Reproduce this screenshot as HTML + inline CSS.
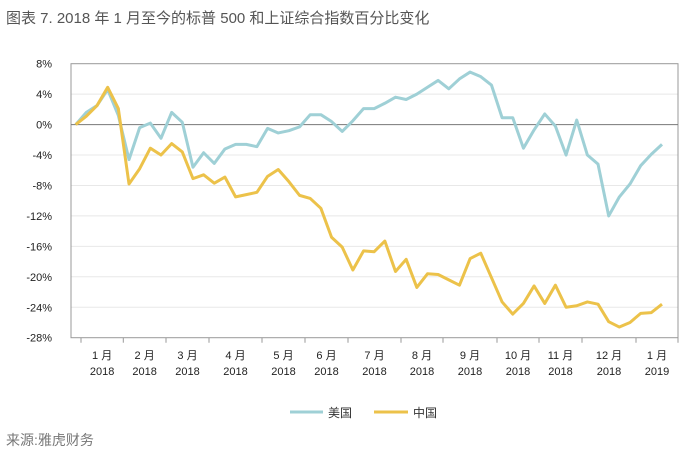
<!DOCTYPE html>
<html><head><meta charset="utf-8"><style>
body{margin:0;background:#fff;width:700px;height:458px;overflow:hidden;font-family:"Liberation Sans","Noto Sans CJK SC",sans-serif}
</style></head><body>
<svg id="chart" width="700" height="458" xmlns="http://www.w3.org/2000/svg" font-family="Liberation Sans, Noto Sans CJK SC, sans-serif">
<text x="6" y="23" font-size="15" fill="#555">图表 7. 2018 年 1 月至今的标普 500 和上证综合指数百分比变化</text>
<g id="grid"></g><g id="axes"></g><g id="series"></g>
<g>
<line x1="290" y1="412" x2="323" y2="412" stroke="#9fd0d6" stroke-width="3"/>
<text x="328" y="417" font-size="12" fill="#333">美国</text>
<line x1="374" y1="412" x2="408" y2="412" stroke="#ecc24a" stroke-width="3"/>
<text x="413" y="417" font-size="12" fill="#333">中国</text>
</g>
<text x="6" y="445" font-size="14" fill="#777">来源:雅虎财务</text>
</svg>
<script>
const usValues=[0,1.6,2.5,4.6,1.2,-4.6,-0.4,0.2,-1.8,1.6,0.3,-5.6,-3.7,-5.1,-3.2,-2.6,-2.6,-2.9,-0.5,-1.1,-0.8,-0.3,1.3,1.3,0.4,-0.9,0.5,2.1,2.1,2.8,3.6,3.3,4.0,4.9,5.8,4.7,6.0,6.9,6.3,5.2,0.9,0.9,-3.1,-0.7,1.4,-0.2,-4.0,0.6,-4.0,-5.2,-12.0,-9.5,-7.8,-5.4,-3.9,-2.6];
const cnValues=[0,1.1,2.5,4.9,2.1,-7.8,-5.8,-3.1,-4.0,-2.5,-3.6,-7.1,-6.6,-7.7,-6.9,-9.5,-9.2,-8.9,-6.8,-5.9,-7.5,-9.3,-9.7,-11.0,-14.8,-16.1,-19.1,-16.6,-16.7,-15.3,-19.3,-17.7,-21.4,-19.6,-19.7,-20.4,-21.1,-17.6,-16.9,-20.1,-23.3,-24.9,-23.5,-21.2,-23.5,-21.1,-24.0,-23.8,-23.3,-23.6,-25.9,-26.6,-26.0,-24.8,-24.7,-23.6];
const yTicks=[8,4,0,-4,-8,-12,-16,-20,-24,-28];
const monthLabels=["1 月","2 月","3 月","4 月","5 月","6 月","7 月","8 月","9 月","10 月","11 月","12 月","1 月"];
const yearLabels=["2018","2018","2018","2018","2018","2018","2018","2018","2018","2018","2018","2018","2019"];
const monthTicks=[81,123.3,166,209,262,305,348,401,443,497,539,582,636,678];
const NS="http://www.w3.org/2000/svg";
const L=71,R=678,T=63.7,B=337.7;
function y(v){return T+(8-v)*(B-T)/36;}
function x(i){return 75.7+i*(662-75.7)/(usValues.length-1);}
function mk(tag,attrs,parent){const e=document.createElementNS(NS,tag);for(const k in attrs)e.setAttribute(k,attrs[k]);parent.appendChild(e);return e;}
const grid=document.getElementById('grid'),axes=document.getElementById('axes'),ser=document.getElementById('series');
yTicks.forEach(v=>{
 if(v!==0&&v!==8&&v!==-28){const g=mk('line',{x1:L,x2:R,y1:y(v),y2:y(v),stroke:'#e8e8e8','stroke-width':1},grid);
 
 }
 const t=mk('text',{x:52,y:y(v)+4,'font-size':11,'text-anchor':'end',fill:'#222'},axes);
 
 
 t.textContent=v+'%';
});
const frame=mk('rect',{x:L,y:T,width:R-L,height:B-T,fill:'none',stroke:'#999','stroke-width':1},axes);


const zl=mk('line',{x1:L,x2:R,y1:y(0),y2:y(0),stroke:'#777','stroke-width':1},axes);


monthTicks.forEach(px=>{const tk=mk('line',{x1:px,x2:px,y1:B,y2:B+5,stroke:'#999'},axes);
 
 });
monthLabels.forEach((m,i)=>{const cx=(monthTicks[i]+monthTicks[i+1])/2;
 const t=mk('text',{x:cx,y:359,'font-size':11,'text-anchor':'middle',fill:'#222'},axes);
 
 
 t.textContent=m;
 const t2=mk('text',{x:cx,y:375,'font-size':11,'text-anchor':'middle',fill:'#222'},axes);
 
 
 t2.textContent=yearLabels[i];});
function line(vals,color,name){const p=mk('polyline',{points:vals.map((v,i)=>x(i)+','+y(v)).join(' '),fill:'none',stroke:color,'stroke-width':3,'stroke-linejoin':'round'},ser);
 
 }
line(usValues,'#9fd0d6','us-line');
line(cnValues,'#ecc24a','cn-line');
</script>
</body></html>
